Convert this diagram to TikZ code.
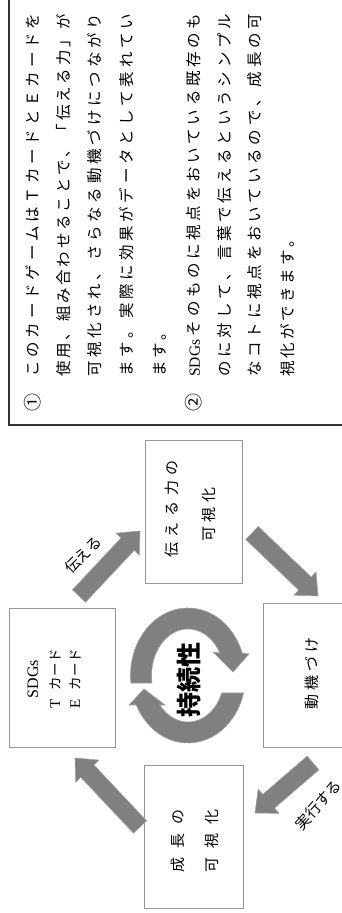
\documentclass[tikz,border=0pt]{standalone}
\usepackage{fontspec}
\setmainfont{Liberation Serif}
\newfontfamily\jp{Noto Sans CJK JP}
\usetikzlibrary{calc}
\definecolor{arrowgray}{RGB}{128,128,128}
\definecolor{arrowedge}{RGB}{160,160,160}
\definecolor{boxedge}{RGB}{150,150,150}
\makeatletter
\newcommand\jline[2]{\makebox[#1][s]{\def\jsep{}\@tfor\jc:=#2\do{\jsep\jc\def\jsep{\hfill}}}}
\makeatother
\newcommand\blockarr[2]{%
  \coordinate (bh) at ($(#2)!18pt!(#1)$);
  \filldraw[blockarrow] ($(#1)!9pt!90:(#2)$) -- ($(bh)!9pt!90:(#2)$) -- ($(bh)!16pt!90:(#2)$) -- (#2)
    -- ($(bh)!16pt!-90:(#2)$) -- ($(bh)!9pt!-90:(#2)$) -- ($(#1)!9pt!-90:(#2)$) -- cycle;}
\begin{document}
\begin{tikzpicture}[x=1pt,y=1pt,rotate=90,transform shape,
  box/.style={draw=boxedge, line width=0.9pt, inner sep=0pt},
  blockarrow/.style={fill=arrowgray, draw=arrowedge, line width=0.6pt, line join=miter},
  jtext/.style={font=\jp\fontsize{15}{18}\selectfont, inner sep=0pt},
  maintext/.style={font=\jp\fontsize{15.5}{18}\selectfont, inner sep=0pt, anchor=west}]
\useasboundingbox (0,0) rectangle (913,-342);
\clip (0,0) rectangle (913,-342);
\fill[white] (0,0) rectangle (913,-342);

% explanation box
\draw[draw=black!80, line width=1.3pt] (488,-9) rectangle (940,-360);
\node[jtext, font=\jp\fontsize{18}{18}\selectfont] (c1) at (510,-32.5) {①};
\node[maintext] (l1) at (536,-32.5) {\jline{363pt}{このカードゲームはＴカードとＥカードを}};
\node[maintext] (l2) at (536,-63.5) {\jline{363pt}{使用、組み合わせることで、「伝える力」が}};
\node[maintext] (l3) at (536,-94.5) {\jline{363pt}{可視化され、さらなる動機づけにつながり}};
\node[maintext] (l4) at (536,-127) {\jline{363pt}{ます。実際に効果がデータとして表れてい}};
\node[maintext] (l5) at (536,-160) {\jline{52pt}{ます。}};
\node[jtext, font=\jp\fontsize{18}{18}\selectfont] (c2) at (510,-194) {②};
\node[maintext] (l6) at (536,-194) {\jline{363pt}{{{\rmfamily SDGs}}そのものに視点をおいている既存のも}};
\node[maintext] (l7) at (536,-224.5) {\jline{363pt}{のに対して、言葉で伝えるというシンプル}};
\node[maintext] (l8) at (536,-255) {\jline{363pt}{なコトに視点をおいているので、成長の可}};
\node[maintext] (l9) at (536,-287.5) {\jline{145pt}{視化ができます。}};

% boxes
\node[box, minimum width=143pt, minimum height=99pt] (grow) at (76.5,-193.5) {};
\node[box, minimum width=139pt, minimum height=106pt] (sdgs) at (235.5,-62) {};
\node[box, minimum width=143pt, minimum height=97pt] (tell) at (401.5,-193.5) {};
\node[box, minimum width=144pt, minimum height=99pt] (motive) at (238,-312.5) {};

% box texts
\node[inner sep=0pt, font=\rmfamily\fontsize{16}{16}\selectfont] (s1) at (234,-33) {SDGs};
\node[jtext, font=\jp\fontsize{13.5}{16}\selectfont] (s2) at (234,-55) {\makebox[60pt][s]{{\rmfamily\fontsize{15}{15}\selectfont T}\hfill\jline{42pt}{カード}}};
\node[jtext, font=\jp\fontsize{13.5}{16}\selectfont] (s3) at (234,-75) {\makebox[60pt][s]{{\rmfamily\fontsize{15}{15}\selectfont E}\hfill\jline{42pt}{カード}}};
\node[jtext] (t1) at (404,-171.5) {\jline{98pt}{伝える力の}};
\node[jtext] (t2) at (398.5,-209) {\jline{55pt}{可視化}};
\node[jtext] (g1) at (71.5,-178) {\jline{63pt}{成長の}};
\node[jtext] (g2) at (71.5,-211.5) {\jline{63pt}{可視化}};
\node[jtext] (m1) at (239.5,-312) {\jline{73pt}{動機づけ}};

% block arrows
\coordinate (a1s) at (317,-79);  \coordinate (a1e) at (382,-140);
\coordinate (a2s) at (380,-252); \coordinate (a2e) at (317,-318);
\coordinate (a3s) at (150,-313); \coordinate (a3e) at (100,-255);
\coordinate (a4s) at (86,-140);  \coordinate (a4e) at (155,-75);
\blockarr{a1s}{a1e}
\blockarr{a2s}{a2e}
\blockarr{a3s}{a3e}
\blockarr{a4s}{a4e}
\node[jtext, rotate=-45] (lab1) at (358,-83) {伝える};
\node[jtext, rotate=-42] (lab2) at (108,-318) {実行する};

% cycle arrows
\filldraw[blockarrow, shift={(237.5,-188)}] (96.4:67.5 and 57.5)
  arc[start angle=96.4, end angle=-70.5, x radius=67.5, y radius=57.5]
  -- (21.5,-61) -- (3.5,-45) -- (23.5,-25) -- (-61:46.5 and 36.5)
  arc[start angle=-61, end angle=99.3, x radius=46.5, y radius=36.5] -- cycle;
\filldraw[blockarrow, shift={(237.5,-188)}] (-105:67.5 and 57.5)
  arc[start angle=-105, end angle=-244.1, x radius=67.5, y radius=57.5]
  -- (-29.5,59) -- (-13.5,44) -- (-29.5,23) -- (-230.6:46.5 and 36.5)
  arc[start angle=-230.6, end angle=-112.1, x radius=46.5, y radius=36.5] -- cycle;
\node[inner sep=0pt, font=\jp\bfseries\fontsize{25}{25}\selectfont] (core) at (233,-188.5) {持続性};
\end{tikzpicture}
\end{document}
